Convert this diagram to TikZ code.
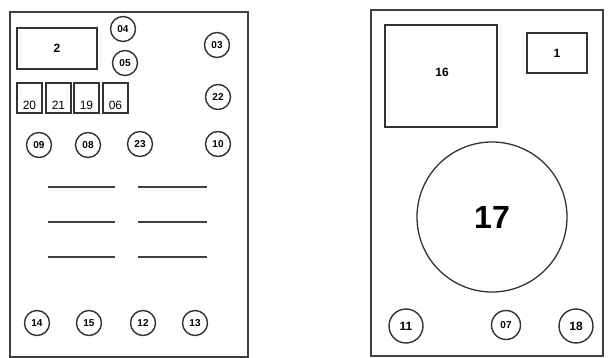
\documentclass[tikz,border=0pt]{standalone}
\usepackage{fontspec}
\setmainfont{Liberation Sans}
\usepackage{tikz}
\usetikzlibrary{positioning}

\tikzset{
  panel/.style={draw=black!75, line width=1.2pt},
  part/.style={draw=black!80, line width=1.3pt, inner sep=0pt, font=\fontsize{12}{13}\selectfont\bfseries},
  num/.style={circle, draw=black!80, line width=1.4pt, inner sep=0pt, minimum size=25pt, font=\fontsize{10}{11}\selectfont\bfseries},
  bignum/.style={num, minimum size=34pt, font=\fontsize{12}{13}\selectfont\bfseries},
  slot/.style={draw=black!75, line width=1.6pt}
}

\begin{document}
\begin{tikzpicture}[x=1pt, y=-1pt]
    \useasboundingbox (0,0) rectangle (610,358);

    % Panels
    \draw[panel] (10,12) rectangle (248,357);
    \draw[panel] (371,10) rectangle (603,356);

    % Left panel: boxes
    \node[part] (b2) at (57,48.5) [minimum width=80pt, minimum height=41pt] {2};
    \foreach \name/\x in {20/29.5, 21/58.5, 19/86.5, 06/115.5} {
        \node[part, minimum width=25pt, minimum height=30pt] (b\name) at (\x,98) {};
        \node[font=\fontsize{12}{13}\selectfont, above=0.5pt of b\name.south] {\name};
    }

    % Left panel: circles
    \node[num] (c04) at (123,29) {04};
    \node[num] (c05) at (125,63) {05};
    \node[num] (c03) at (217,45) {03};
    \node[num] (c22) at (218,97) {22};
    \node[num] (c10) at (218,144) {10};
    \node[num] (c09) at (39,145) {09};
    \node[num] (c08) at (88,145) {08};
    \node[num] (c23) at (140,144) {23};
    \foreach \name/\x in {14/37, 15/89, 12/143, 13/195}
        \node[num] (c\name) at (\x,323) {\name};

    % Left panel: slots
    \foreach \y in {187, 222, 257} {
        \draw[slot] (48,\y) -- (115,\y);
        \draw[slot] (138,\y) -- (207,\y);
    }

    % Right panel
    \node[part, minimum width=112pt, minimum height=102pt] (b16) at (441,76) {};
    \node[font=\fontsize{12}{13}\selectfont\bfseries] at (442,72) {16};
    \node[part, minimum width=60pt, minimum height=40pt] (b1) at (557,53) {1};
    \node[circle, draw=black!80, line width=1.3pt, minimum size=150pt, inner sep=0pt,
          font=\fontsize{32}{34}\selectfont\bfseries] (c17) at (492,217) {17};
    \node[bignum] (c11) at (406,326) {11};
    \node[num, minimum size=29pt] (c07) at (506,325) {07};
    \node[bignum] (c18) at (576,326) {18};
\end{tikzpicture}
\end{document}
